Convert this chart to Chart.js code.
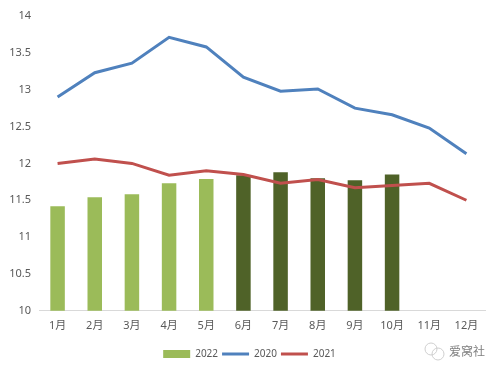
<!DOCTYPE html>
<html>
<head>
<meta charset="utf-8">
<script src="https://cdn.jsdelivr.net/npm/chart.js@4/dist/chart.umd.min.js"></script>
<style>
  html, body { margin: 0; padding: 0; background: #fff; }
  #wrap { width: 500px; height: 373px; }
</style>
</head>
<body>
<div id="wrap"><canvas id="chart" width="500" height="373"></canvas></div>
<script>
var months = ["1月", "2月", "3月", "4月", "5月", "6月", "7月", "8月", "9月", "10月", "11月", "12月"];
var values2022 = [11.42, 11.54, 11.58, 11.73, 11.79, 11.84, 11.88, 11.8, 11.77, 11.85, null, null];
var values2020 = [12.9, 13.23, 13.36, 13.71, 13.58, 13.17, 12.98, 13.01, 12.75, 12.66, 12.48, 12.13];
var values2021 = [12.0, 12.06, 12.0, 11.84, 11.9, 11.85, 11.73, 11.78, 11.67, 11.7, 11.73, 11.5];
var barColors = ["#9bbb59", "#9bbb59", "#9bbb59", "#9bbb59", "#9bbb59",
                 "#4f6228", "#4f6228", "#4f6228", "#4f6228", "#4f6228", "#4f6228", "#4f6228"];

var fontFamily = '"Noto Sans", "Noto Sans CJK SC", sans-serif';

// legend is centred on the whole picture, not on the padded area
var legendShift = {
  id: 'legendShift',
  afterLayout: function(chart) {
    chart.legend.left += 7;
    chart.legend.right += 7;
  }
};

// the faint account mark in the bottom right corner of the original
var watermark = {
  id: 'watermark',
  afterDraw: function(chart) {
    var ctx = chart.ctx;
    ctx.save();
    ctx.strokeStyle = '#cfcfcf';
    ctx.lineWidth = 1;
    ctx.beginPath();
    ctx.arc(431, 349, 6, 0, Math.PI * 2);
    ctx.stroke();
    ctx.beginPath();
    ctx.arc(438, 354, 6, 0, Math.PI * 2);
    ctx.stroke();
    ctx.fillStyle = '#7f7f7f';
    ctx.font = '12px "Noto Sans CJK SC"';
    ctx.textBaseline = 'middle';
    ctx.fillText('爱窝社', 449, 351);
    ctx.restore();
  }
};

var chart = new Chart(document.getElementById("chart"), {
  type: 'bar',
  data: {
    labels: months,
    datasets: [{
      label: "2022",
      data: values2022,
      backgroundColor: barColors,
      barPercentage: 0.39,
      categoryPercentage: 1,
      order: 2,
      pointStyle: 'rect'
    }, {
      type: 'line',
      label: "2020",
      data: values2020,
      borderColor: "#4f81bd",
      backgroundColor: "#4f81bd",
      borderWidth: 3,
      pointRadius: 0,
      tension: 0,
      order: 1,
      pointStyle: 'line'
    }, {
      type: 'line',
      label: "2021",
      data: values2021,
      borderColor: "#c0504d",
      backgroundColor: "#c0504d",
      borderWidth: 3,
      pointRadius: 0,
      tension: 0,
      order: 0,
      pointStyle: 'line'
    }]
  },
  options: {
    responsive: false,
    animation: false,
    layout: { padding: { left: 0, right: 15, top: 16, bottom: 4 } },
    plugins: {
      tooltip: { enabled: false },
      legend: {
        position: 'bottom',
        labels: {
          usePointStyle: true,
          pointStyleWidth: 27,
          boxHeight: 8,
          padding: 4,
          color: '#595959',
          font: { family: fontFamily, size: 10 },
          sort: function(a, b) { return a.datasetIndex - b.datasetIndex; }
        }
      }
    },
    scales: {
      x: {
        afterFit: function(axis) { axis.height += 5; },
        grid: { display: false, drawTicks: false },
        border: { color: '#d9d9d9', width: 1 },
        ticks: { color: '#595959', font: { family: fontFamily, size: 11 }, maxRotation: 0, padding: 8 }
      },
      y: {
        min: 10,
        max: 14,
        afterFit: function(axis) { axis.width = 39; },
        grid: { display: false, drawTicks: false },
        border: { display: false },
        ticks: {
          stepSize: 0.5,
          color: '#595959',
          font: { family: fontFamily, size: 11 },
          padding: 8,
          callback: function(value) { return String(value); }
        }
      }
    }
  },
  plugins: [legendShift, watermark]
});
</script>
</body>
</html>
